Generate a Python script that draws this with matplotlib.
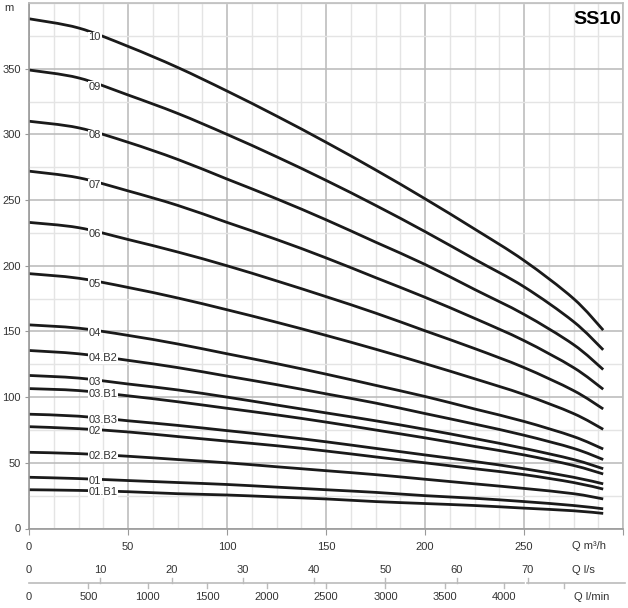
import numpy as np
import matplotlib.pyplot as plt
from matplotlib.path import Path
from matplotlib.patches import PathPatch
from matplotlib.transforms import offset_copy

plt.rcParams['font.family'] = ['Liberation Sans Narrow', 'Liberation Sans', 'DejaVu Sans']

# flow points (m3/h) where the head of every curve was read
q = [0, 25, 50, 75, 100, 125, 150, 175, 200, 225, 250, 275, 290]

# head (m) per pump model
h10 = [388, 381, 367, 351, 333, 314, 294, 273, 251, 228, 204, 175, 151]
h09 = [349, 343, 330, 316, 300, 283, 265, 246, 226, 205, 184, 157.5, 136]
h08 = [310, 305, 294, 281, 266, 251, 235, 218, 201, 182, 163, 140, 121]
h07 = [272, 267, 257, 246, 233, 220, 206, 191, 176, 160, 143, 122.5, 106]
h06 = [233, 229, 220, 210.5, 200, 188.5, 176.5, 164, 150.5, 137, 122.5, 105, 91]
h05 = [194, 190.5, 183.5, 175.5, 166.5, 157, 147, 136.5, 125.5, 114, 102, 87.5, 75.5]
h04 = [155, 152.5, 147, 140.5, 133, 125.5, 117.5, 109, 100.5, 91, 81.5, 70, 60.5]
h04b2 = [135.5, 133, 128, 122.5, 116, 109.5, 102.5, 95.5, 87.5, 79.5, 71, 61, 52.5]
h03 = [116.5, 114.5, 110, 105.5, 100, 94, 88, 82, 75.5, 68.5, 61, 52.5, 45.5]
h03b1 = [106.5, 105, 101, 96.5, 91.5, 86.5, 81, 75, 69, 62.5, 56, 48, 41.5]
h03b3 = [87, 85.5, 82, 78.5, 74.5, 70.5, 66, 61, 56, 51, 45.5, 39, 34]
h02 = [77.5, 76, 73.5, 70, 66.5, 63, 59, 54.5, 50, 45.5, 41, 35, 30]
h02b2 = [58, 57, 55, 52.5, 50, 47, 44, 41, 37.5, 34, 30.5, 26.5, 22.5]
h01 = [39, 38, 36.5, 35, 33.5, 31.5, 29.5, 27.5, 25, 23, 20.5, 17.5, 15]
h01b1 = [29.5, 29, 28, 26.5, 25.5, 24, 22.5, 20.5, 19, 17.5, 15.5, 13.5, 11.5]

labels = ['10', '09', '08', '07', '06', '05', '04', '04.B2', '03', '03.B1',
          '03.B3', '02', '02.B2', '01', '01.B1']
heads = [h10, h09, h08, h07, h06, h05, h04, h04b2, h03, h03b1,
         h03b3, h02, h02b2, h01, h01b1]

m3h_ticks = [0, 50, 100, 150, 200, 250]
ls_ticks = [0, 10, 20, 30, 40, 50, 60, 70]
lmin_ticks = [0, 500, 1000, 1500, 2000, 2500, 3000, 3500, 4000]


def smooth_path(xs, ys):
    # Catmull-Rom through the read points, drawn as cubic Bezier segments
    p = np.column_stack([xs, ys]).astype(float)
    ext = np.vstack([p[0], p, p[-1]])
    verts = [p[0]]
    codes = [Path.MOVETO]
    for i in range(len(p) - 1):
        p0, p1, p2, p3 = ext[i], ext[i + 1], ext[i + 2], ext[i + 3]
        verts += [p1 + (p2 - p0) / 6, p2 - (p3 - p1) / 6, p2]
        codes += [Path.CURVE4] * 3
    return Path(verts, codes)


W, H = 628, 608
fig = plt.figure(figsize=(W / 100, H / 100), dpi=100)
ax_l, ax_r, ax_t, ax_b = 29, 623, 3, 528.5
ax = fig.add_axes([ax_l / W, 1 - ax_b / H, (ax_r - ax_l) / W, (ax_b - ax_t) / H])
ax_h = ax_b - ax_t

ax.set_xlim(0, 300)
ax.set_ylim(0, 400)
ax.set_xticks(np.arange(0, 301, 50))
ax.set_xticks(np.arange(0, 301, 12.5), minor=True)
ax.set_yticks(np.arange(0, 351, 50))
ax.set_yticks(np.arange(0, 401, 25), minor=True)
ax.grid(which='minor', color='#e4e4e4', lw=1.0)
ax.grid(which='major', color='#bdbdbd', lw=1.2)
ax.set_axisbelow(True)
ax.tick_params(which='minor', length=0)
ax.tick_params(axis='x', which='major', length=4, color='#999999', labelbottom=False)
ax.tick_params(axis='y', which='major', length=3, color='#999999', pad=3,
               labelsize=8, labelcolor='#333333')
for s in ax.spines.values():
    s.set_color('#bdbdbd')
    s.set_linewidth(1.2)
ax.spines['left'].set_color('#999999')
ax.spines['bottom'].set_color('#999999')

for lab, h in zip(labels, heads):
    ax.add_patch(PathPatch(smooth_path(q, h), facecolor='none',
                           edgecolor='#1a1a1a', lw=2.0, capstyle='butt'))
    ax.text(30, np.interp(36, q, h) - 1, lab, fontsize=8, color='#333333',
            ha='left', va='center', zorder=5,
            bbox=dict(facecolor='white', edgecolor='none', pad=0.6))

fig.text(4 / W, 1 - 8 / H, 'm', fontsize=8, color='#333333', va='center')
ax.text(0.997, 1 - 17 / ax_h, 'SS10', transform=ax.transAxes, fontsize=14,
        fontweight='bold', family=['Liberation Sans', 'DejaVu Sans'],
        ha='right', va='center')

tr = ax.get_xaxis_transform()


def row(dy):
    return offset_copy(tr, fig=fig, x=0, y=-dy, units='dots')


for v in m3h_ticks:
    ax.text(v, 0, str(v), transform=row(18.5), fontsize=8, color='#333333',
            ha='center', va='center')
ax.text(274, 0, 'Q m³/h', transform=row(17.5), fontsize=8, color='#333333',
        ha='left', va='center')

for v in ls_ticks:
    ax.text(v * 3.6, 0, str(v), transform=row(41.5), fontsize=8, color='#333333',
            ha='center', va='center')
ax.text(274, 0, 'Q l/s', transform=row(41.5), fontsize=8, color='#333333',
        ha='left', va='center')

for v in lmin_ticks:
    ax.text(v * 0.06, 0, str(v), transform=row(68.5), fontsize=8, color='#333333',
            ha='center', va='center')
ax.text(275, 0, 'Q l/min', transform=row(68.5), fontsize=8, color='#333333',
        ha='left', va='center')

line_tr = row(54.5)
ax.plot([0, 250], [0, 0], transform=line_tr, color='#bbbbbb', lw=1.2, clip_on=False)
ax.plot([251.5, 301], [0, 0], transform=line_tr, color='#bbbbbb', lw=1.2, clip_on=False)
up = 5 / ax_h
for v in ls_ticks[1:]:
    ax.plot([v * 3.6, v * 3.6], [0, up], transform=line_tr, color='#bbbbbb',
            lw=1, clip_on=False)
for v in lmin_ticks[1:] + [4500]:
    ax.plot([v * 0.06, v * 0.06], [0, -up], transform=line_tr, color='#bbbbbb',
            lw=1, clip_on=False)

fig.savefig('out.png', dpi=100)
